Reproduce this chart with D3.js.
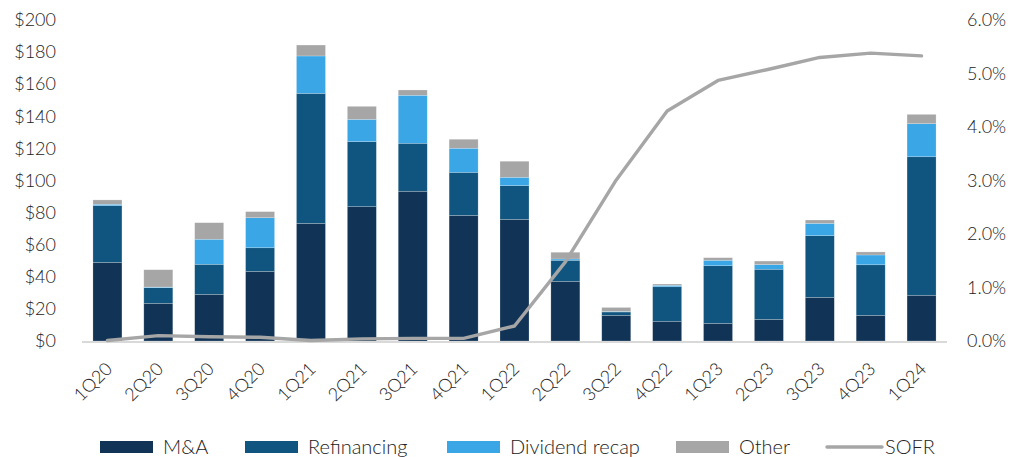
<!DOCTYPE html>
<html>
<head>
<meta charset="utf-8">
<script src="https://cdn.jsdelivr.net/npm/d3@7"></script>
<style>
  html, body { margin: 0; padding: 0; background: #ffffff; }
  svg text { font-family: Lato, "Open Sans", sans-serif; font-weight: 300; fill: #222222; }
</style>
</head>
<body>
<svg id="chart" width="1011" height="457"></svg>
<script>
// Quarterly volume ($bn) by use of proceeds, with SOFR on the right axis
const quarters = ["1Q20","2Q20","3Q20","4Q20","1Q21","2Q21","3Q21","4Q21","1Q22","2Q22","3Q22","4Q22","1Q23","2Q23","3Q23","4Q23","1Q24"];
const mna      = [49.0, 23.5, 29.1, 43.4, 73.3, 83.7, 93.3, 78.3, 75.8, 37.2, 16.0, 12.3, 11.0, 13.5, 27.2, 16.0, 28.5];
const refi     = [35.3,  9.7, 18.7, 14.7, 81.0, 40.5, 29.9, 26.8, 21.0, 13.1,  2.1, 21.5, 35.9, 31.2, 38.4, 31.5, 86.3];
const divRecap = [ 0.9,  0.4, 15.6, 18.7, 23.3, 13.9, 29.9, 15.0,  5.2,  0.8,  0.3,  0.9,  3.4,  2.9,  7.7,  6.1, 20.6];
const other    = [ 2.7, 10.8, 10.3,  3.8,  6.8,  8.1,  3.3,  5.6, 10.0,  4.2,  2.5,  0.8,  1.6,  2.2,  2.1,  1.9,  5.8];
const sofr     = [0.01, 0.10, 0.08, 0.07, 0.01, 0.04, 0.05, 0.05, 0.28, 1.48, 3.01, 4.30, 4.87, 5.08, 5.30, 5.38, 5.33];

const leftTicks  = [0, 20, 40, 60, 80, 100, 120, 140, 160, 180, 200];
const rightTicks = [0, 0.01, 0.02, 0.03, 0.04, 0.05, 0.06];

const seriesNames  = ["M&A", "Refinancing", "Dividend recap", "Other"];
const seriesColors = ["#113456", "#10557f", "#3aa6e6", "#a6a6a6"];
const lineColor = "#a6a6a6";
const textColor = "#222222";

const svg = d3.select("#chart");
const plot = { left: 82, right: 947, top: 20, bottom: 341 };

const x = d3.scaleBand().domain(quarters).range([plot.left, plot.right]).paddingInner(0.43).paddingOuter(0.215);
const yL = d3.scaleLinear().domain([0, 200]).range([plot.bottom, plot.top]);
const yR = d3.scaleLinear().domain([0, 0.06]).range([plot.bottom, plot.top]);

// stacked table built from the series arrays
const table = quarters.map((q, i) => ({ q, "M&A": mna[i], "Refinancing": refi[i], "Dividend recap": divRecap[i], "Other": other[i] }));
const stacked = d3.stack().keys(seriesNames)(table);

const bars = svg.append("g");
stacked.forEach((layer, k) => {
  bars.append("g")
    .attr("fill", seriesColors[k])
    .selectAll("rect")
    .data(layer)
    .join("rect")
    .attr("x", d => x(d.data.q))
    .attr("width", x.bandwidth())
    .attr("y", d => yL(d[1]))
    .attr("height", d => yL(d[0]) - yL(d[1]))
    .attr("stroke", "#ffffff")
    .attr("stroke-opacity", 0.35)
    .attr("stroke-width", 0.6);
});

// baseline
svg.append("line")
  .attr("x1", plot.left).attr("x2", plot.right)
  .attr("y1", plot.bottom + 1).attr("y2", plot.bottom + 1)
  .attr("stroke", "#d9d9d9").attr("stroke-width", 2);

// SOFR line
const line = d3.line()
  .x((d, i) => x(quarters[i]) + x.bandwidth() / 2)
  .y(d => yR(d / 100));
svg.append("path")
  .datum(sofr)
  .attr("d", line)
  .attr("fill", "none")
  .attr("stroke", lineColor)
  .attr("stroke-width", 3.4)
  .attr("stroke-linejoin", "round")
  .attr("stroke-linecap", "round");

// left axis
const axL = svg.append("g")
  .attr("transform", `translate(${plot.left - 26},0)`)
  .call(d3.axisLeft(yL).tickValues(leftTicks).tickSize(0).tickPadding(0).tickFormat(d => "$" + d));
axL.select(".domain").remove();
axL.selectAll("text").attr("font-size", 18).style("font-family", "Lato, 'Open Sans', sans-serif").style("font-weight", 300).attr("fill", textColor);

// right axis
const axR = svg.append("g")
  .attr("transform", `translate(${plot.right + 20},0)`)
  .call(d3.axisRight(yR).tickValues(rightTicks).tickSize(0).tickPadding(0).tickFormat(d3.format(".1%")));
axR.select(".domain").remove();
axR.selectAll("text").attr("font-size", 18).style("font-family", "Lato, 'Open Sans', sans-serif").style("font-weight", 300).attr("fill", textColor);

// category labels, rotated
svg.append("g")
  .selectAll("text")
  .data(quarters)
  .join("text")
  .attr("transform", d => `translate(${x(d) + x.bandwidth() / 2 + 6},${plot.bottom + 29}) rotate(-45)`)
  .attr("text-anchor", "end")
  .attr("font-size", 18)
  .text(d => d);

// legend
const legendItems = [
  { name: "M&A", color: seriesColors[0], type: "box", x: 100 },
  { name: "Refinancing", color: seriesColors[1], type: "box", x: 245 },
  { name: "Dividend recap", color: seriesColors[2], type: "box", x: 447 },
  { name: "Other", color: seriesColors[3], type: "box", x: 676 },
  { name: "SOFR", color: lineColor, type: "line", x: 827 }
];
const lg = svg.append("g");
legendItems.forEach(it => {
  const g = lg.append("g").attr("transform", `translate(${it.x},447)`);
  if (it.type === "box") {
    g.append("rect").attr("x", 0).attr("y", -6).attr("width", 53).attr("height", 12).attr("fill", it.color);
    g.append("text").attr("x", 63).attr("y", 7).attr("font-size", 20).text(it.name);
  } else {
    g.append("line").attr("x1", 0).attr("x2", 55).attr("y1", 0).attr("y2", 0)
      .attr("stroke", it.color).attr("stroke-width", 3.4).attr("stroke-linecap", "round");
    g.append("text").attr("x", 58).attr("y", 7).attr("font-size", 20).text(it.name);
  }
});
</script>
</body>
</html>
